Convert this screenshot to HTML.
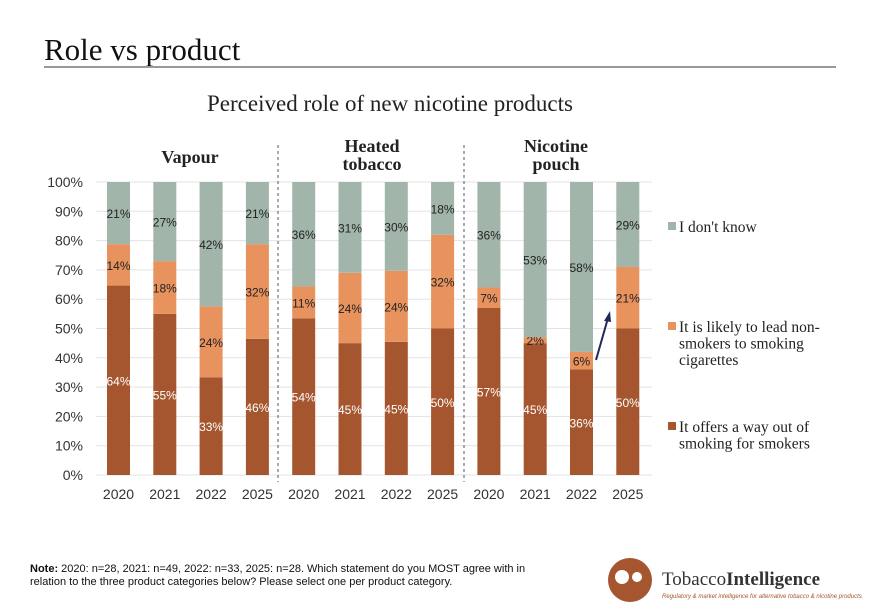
<!DOCTYPE html>
<html><head><meta charset="utf-8"><style>
body{margin:0;background:#fff;width:880px;height:609px;overflow:hidden;font-family:"Liberation Sans",sans-serif}
svg text{font-family:"Liberation Sans",sans-serif}
svg text.serif,.serif text{font-family:"Liberation Serif","DejaVu Serif",serif}
</style></head><body>
<svg id="c" width="880" height="609" xmlns="http://www.w3.org/2000/svg">
<text class="serif" x="44" y="60" font-size="31" fill="#111">Role vs product</text>
<rect x="44" y="66" width="792" height="2" fill="#999"/>
<text class="serif" x="390" y="111" font-size="23" fill="#222" text-anchor="middle">Perceived role of new nicotine products</text>
<g id="grid"></g><g id="bars"></g><g id="axes"></g>
<line x1="278" y1="145" x2="278" y2="482" stroke="#556" stroke-dasharray="3,3"/>
<line x1="464" y1="145" x2="464" y2="482" stroke="#556" stroke-dasharray="3,3"/>
<text class="serif" x="190" y="163" font-size="18" font-weight="bold" text-anchor="middle" fill="#222">Vapour</text>
<text class="serif" x="372" y="152" font-size="18" font-weight="bold" text-anchor="middle" fill="#222"><tspan x="372">Heated</tspan><tspan x="372" dy="18">tobacco</tspan></text>
<text class="serif" x="556" y="152" font-size="18" font-weight="bold" text-anchor="middle" fill="#222"><tspan x="556">Nicotine</tspan><tspan x="556" dy="18">pouch</tspan></text>
<line x1="596" y1="360" x2="608" y2="318" stroke="#1f2a5a" stroke-width="2"/>
<polygon points="610,311 604,321 611,322" fill="#1f2a5a"/>
<g class="serif" font-size="15.5" fill="#222">
<rect x="668" y="222" width="8" height="8" fill="#a2b5aa"/>
<text x="679" y="232">I don't know</text>
<rect x="668" y="322" width="8" height="8" fill="#e8925e"/>
<text x="679" y="332"><tspan x="679">It is likely to lead non-</tspan><tspan x="679" dy="16.5">smokers to smoking</tspan><tspan x="679" dy="16.5">cigarettes</tspan></text>
<rect x="668" y="422" width="8" height="8" fill="#a5562e"/>
<text x="679" y="432"><tspan x="679">It offers a way out of</tspan><tspan x="679" dy="16.5">smoking for smokers</tspan></text>
</g>
<text x="30" y="572" font-size="11" fill="#111"><tspan font-weight="bold">Note:</tspan> 2020: n=28, 2021: n=49, 2022: n=33, 2025: n=28. Which statement do you MOST agree with in<tspan x="30" dy="13">relation to the three product categories below? Please select one per product category.</tspan></text>
<g>
<circle cx="630" cy="580" r="22" fill="#a5562e"/>
<circle cx="622" cy="577" r="7" fill="#fff"/>
<circle cx="637" cy="577" r="5" fill="#fff"/>
<text class="serif" x="662" y="585" font-size="19" fill="#333">Tobacco<tspan font-weight="bold">Intelligence</tspan></text>
<text x="662" y="598" font-size="6" font-style="italic" fill="#a5562e">Regulatory &amp; market intelligence for alternative tobacco &amp; nicotine products</text>
</g>
</svg>
<script>
const years=["2020","2021","2022","2025","2020","2021","2022","2025","2020","2021","2022","2025"];
const wayOut=[64,55,33,46,54,45,45,50,57,45,36,50];
const likely=[14,18,24,32,11,24,24,32,7,2,6,21];
const dontKnow=[21,27,42,21,36,31,30,18,36,53,58,29];
const yTicks=[0,10,20,30,40,50,60,70,80,90,100];
const NS="http://www.w3.org/2000/svg";
const y0=475,y1=182,x0=96,x1=652;
const yS=v=>y0-(y0-y1)*v/100;
const xS=i=>107+i*46.3;
const bw=23;
function mk(t,a,p){const e=document.createElementNS(NS,t);for(const k in a)e.setAttribute(k,a[k]);p.appendChild(e);return e;}
const grid=document.getElementById('grid'),bars=document.getElementById('bars'),axes=document.getElementById('axes');
yTicks.forEach(v=>{
 const l=mk('line',{x1:x0,x2:x1,y1:yS(v),y2:yS(v),stroke:'#e3e3e3'},grid);
 
 
 const t=mk('text',{x:83,y:yS(v)+5,'font-size':14,'text-anchor':'end',fill:'#333'},axes);
 t.textContent=v+'%';
 
 
});
const series=[[wayOut,'#a5562e','#fff','wayout'],[likely,'#e8925e','#222','likely'],[dontKnow,'#a2b5aa','#222','dontknow']];
years.forEach((yr,i)=>{
 const tot=wayOut[i]+likely[i]+dontKnow[i];
 let acc=0;
 series.forEach(([arr,col,tc,nm])=>{
  const v=arr[i]*100/tot;
  const top=yS(acc+v),bot=yS(acc);
  const r=mk('rect',{x:xS(i),y:top,width:bw,height:bot-top,fill:col},bars);
  
  
  const t=mk('text',{x:xS(i)+bw/2,y:(top+bot)/2+5,'font-size':12,'text-anchor':'middle',fill:tc},bars);
  t.textContent=arr[i]+'%';
  
  
  acc+=v;
 });
 const t=mk('text',{x:xS(i)+bw/2,y:499,'font-size':14,'text-anchor':'middle',fill:'#333'},axes);
 t.textContent=yr;
 
 
});
</script>
</body></html>
